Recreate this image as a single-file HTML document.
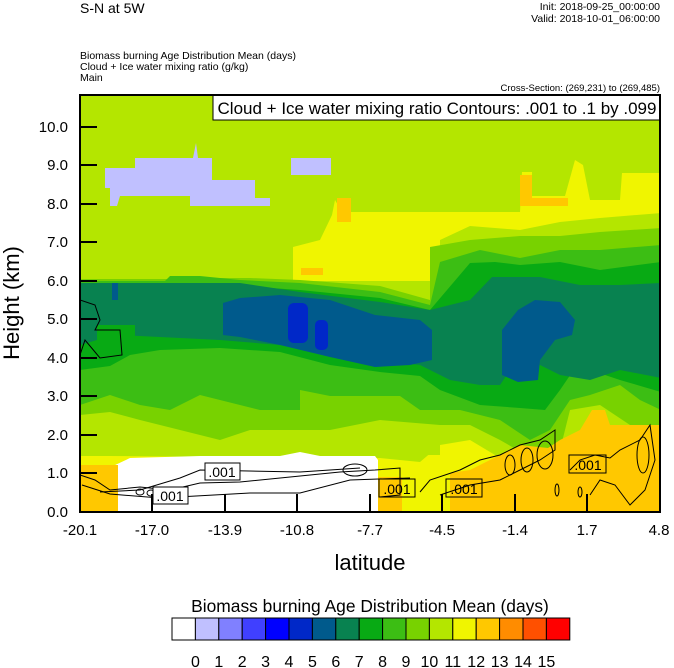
<!DOCTYPE html>
<html><head><meta charset="utf-8"><style>
body{margin:0;background:#fff;}
svg{display:block;font-family:"Liberation Sans",sans-serif;}
</style></head><body>
<svg width="674" height="668" viewBox="0 0 674 668" xmlns="http://www.w3.org/2000/svg">
<rect width="674" height="668" fill="#fff"/>
<text x="80" y="13" font-size="14">S-N at 5W</text>
<text x="660" y="10" font-size="10.5" text-anchor="end">Init: 2018-09-25_00:00:00</text>
<text x="660" y="22" font-size="10.5" text-anchor="end">Valid: 2018-10-01_06:00:00</text>
<text x="80" y="59" font-size="10.5">Biomass burning Age Distribution Mean   (days)</text>
<text x="80" y="70" font-size="10.5">Cloud + Ice water mixing ratio   (g/kg)</text>
<text x="80" y="81" font-size="10.5">Main</text>
<text x="660" y="91" font-size="9.5" text-anchor="end">Cross-Section: (269,231) to (269,485)</text>
<defs><clipPath id="c"><rect x="80" y="95" width="580" height="417"/></clipPath></defs>
<g clip-path="url(#c)">
<rect x="80" y="95" width="580" height="417" fill="#b4e600"/>
<polygon points="105,168 135,168 135,158 193,158 196,143 198,158 212,158 212,180 255,180 255,198 270,198 270,206 190,206 190,196 120,196 117,206 110,206 110,188 105,188" fill="#c0c0ff"/>
<rect x="291" y="158" width="40" height="17" fill="#c0c0ff"/>
<polygon points="332,215 335,200 342,212 520,212 522,172 532,172 532,196 565,196 575,160 583,165 590,200 620,200 622,173 661,173 661,512 80,512 80,430 95,425 130,420 160,440 200,450 300,455 440,455 440,300 380,292 293,293 293,247 320,240" fill="#f0f500"/>
<rect x="337" y="198" width="14" height="24" fill="#ffc800"/>
<rect x="301" y="268" width="22" height="7" fill="#ffc800"/>
<polygon points="520,212 520,175 532,175 532,198 568,198 568,206 520,206" fill="#ffc800"/>
<polygon points="80,281 440,281 440,240 470,226 520,230 560,222 600,218 661,213 661,440 620,445 590,430 560,470 520,470 470,440 440,445 420,462 380,458 110,456 80,456" fill="#b4e600"/>
<polygon points="80,279 170,279 200,278 250,278 300,280 380,286 430,300 430,247 470,240 520,236 560,236 600,232 661,228 661,430 630,425 600,405 570,410 560,450 535,460 500,440 470,425 440,425 380,420 330,430 250,430 220,440 180,430 140,420 110,412 80,415" fill="#78d200"/>
<polygon points="80,281 165,281 170,276 200,276 240,280 300,283 380,292 430,305 440,262 480,250 520,258 560,250 600,250 661,245 661,410 640,400 620,385 590,395 570,400 550,430 530,440 500,420 460,410 420,410 400,396 330,396 300,390 300,410 260,410 200,395 170,410 140,405 110,395 80,405" fill="#3cbe14"/>
<polygon points="80,283 200,283 240,286 300,290 380,298 430,310 470,263 495,262 520,265 560,262 600,270 661,262 661,392 620,380 590,370 575,368 560,390 545,410 520,408 480,405 440,390 420,376 380,372 330,365 280,352 220,348 160,350 130,355 110,366 80,370" fill="#08aa14"/>
<polygon points="80,283 240,283 300,292 380,302 430,310 470,300 492,277 540,277 580,285 620,285 661,283 661,378 620,370 590,380 560,375 520,355 500,385 480,385 450,380 420,365 380,360 330,350 280,345 220,340 160,337 120,335 97,340 80,345" fill="#088250"/>
<rect x="97" y="325" width="38" height="25" fill="#08aa14"/>
<polygon points="112,283 118,283 118,300 112,300" fill="#005a8c"/>
<polygon points="223,303 240,298 280,295 330,300 375,315 420,320 432,330 432,360 410,365 375,367 330,357 280,345 240,337 223,335" fill="#005a8c"/>
<polygon points="502,330 518,310 535,300 560,302 575,320 572,335 555,340 540,360 538,380 518,382 502,375" fill="#005a8c"/>
<rect x="288" y="303" width="20" height="40" rx="6" fill="#0028c8"/>
<rect x="315" y="320" width="13" height="30" rx="5" fill="#0028c8"/>
<polygon points="113,466 130,458 200,456 280,456 300,452 320,456 375,456 378,460 378,512 113,512" fill="#fff"/>
<rect x="80" y="465" width="38" height="47" fill="#ffc800"/>
<rect x="378" y="477" width="24" height="35" fill="#ffc800"/>
<polygon points="450,473 470,470 500,455 520,445 548,448 560,440 580,430 592,410 605,410 610,425 661,425 661,512 450,512" fill="#ffc800"/>
<g fill="none" stroke="#000" stroke-width="1">
<path d="M80,300 L95,305 L100,320 L95,330 L120,330 L122,355 L100,358 L85,340 L80,355"/>
<path d="M80,475 L95,480 L110,490 L140,487 L170,490 L200,483 L240,482 L340,472 L375,470 L400,468 L400,495 L380,497"/>
<path d="M82,485 L110,494 L160,498 L250,493 L300,493 L350,480 L410,478"/>
<path d="M100,492 L140,490 L180,478 L200,470 L300,472 L360,468"/>
<ellipse cx="355" cy="470" rx="12" ry="6"/>
<ellipse cx="140" cy="492" rx="4" ry="3"/>
<ellipse cx="151" cy="493" rx="4" ry="3"/>
<path d="M420,492 L430,480 L460,470 L480,460 L500,455 L520,445 L540,440 L555,430 L555,450 L540,460 L520,470 L500,480 L470,485 L440,495"/>
<ellipse cx="527" cy="460" rx="6" ry="12"/><ellipse cx="545" cy="455" rx="8" ry="14"/>
<ellipse cx="510" cy="465" rx="5" ry="10"/>
<path d="M570,470 L580,460 L595,455 L610,458 L620,450 L640,440 L650,425 L655,460 L645,490 L630,505 L615,485 L600,480 L590,495"/>
<ellipse cx="643" cy="455" rx="6" ry="18"/>
<ellipse cx="557" cy="490" rx="2" ry="6"/><ellipse cx="580" cy="492" rx="2" ry="5"/>
</g>
</g>
<g font-size="14" text-anchor="middle">
<rect x="205" y="463" width="35" height="17" fill="#fff" stroke="#000"/><text x="222" y="477">.001</text>
<rect x="153" y="487" width="35" height="17" fill="#fff" stroke="#000"/><text x="170" y="501">.001</text>
<rect x="379" y="479" width="36" height="18" fill="none" stroke="#000"/><text x="397" y="494">.001</text>
<rect x="446" y="479" width="36" height="18" fill="none" stroke="#000"/><text x="464" y="494">.001</text>
<rect x="569" y="455" width="37" height="18" fill="none" stroke="#000"/><text x="588" y="470">.001</text>
</g>
<rect x="213" y="95" width="447" height="25" fill="#fff" stroke="#000"/>
<text x="437" y="114" font-size="17" text-anchor="middle">Cloud + Ice water mixing ratio Contours: .001 to .1 by .099</text>
<rect x="80" y="95" width="580" height="417" fill="none" stroke="#000" stroke-width="2"/>
<g stroke="#000" stroke-width="2">
<line x1="80" y1="127" x2="97" y2="127"/><line x1="80" y1="165" x2="97" y2="165"/><line x1="80" y1="204" x2="97" y2="204"/><line x1="80" y1="242" x2="97" y2="242"/><line x1="80" y1="281" x2="97" y2="281"/><line x1="80" y1="319" x2="97" y2="319"/><line x1="80" y1="358" x2="97" y2="358"/><line x1="80" y1="396" x2="97" y2="396"/><line x1="80" y1="435" x2="97" y2="435"/><line x1="80" y1="473" x2="97" y2="473"/>
<line x1="152" y1="512" x2="152" y2="494"/><line x1="225" y1="512" x2="225" y2="494"/><line x1="297" y1="512" x2="297" y2="494"/><line x1="370" y1="512" x2="370" y2="494"/><line x1="442" y1="512" x2="442" y2="494"/><line x1="515" y1="512" x2="515" y2="494"/><line x1="587" y1="512" x2="587" y2="494"/>
</g>
<g font-size="15" text-anchor="end">
<text x="68" y="132">10.0</text><text x="68" y="170">9.0</text><text x="68" y="209">8.0</text><text x="68" y="247">7.0</text><text x="68" y="286">6.0</text><text x="68" y="324">5.0</text><text x="68" y="363">4.0</text><text x="68" y="401">3.0</text><text x="68" y="440">2.0</text><text x="68" y="478">1.0</text><text x="68" y="517">0.0</text>
</g>
<g font-size="15" text-anchor="middle">
<text x="80" y="535">-20.1</text><text x="152" y="535">-17.0</text><text x="225" y="535">-13.9</text><text x="297" y="535">-10.8</text><text x="370" y="535">-7.7</text><text x="442" y="535">-4.5</text><text x="515" y="535">-1.4</text><text x="587" y="535">1.7</text><text x="659" y="535">4.8</text>
</g>
<text x="19" y="303" font-size="22" text-anchor="middle" transform="rotate(-90 19 303)">Height (km)</text>
<text x="370" y="570" font-size="22" text-anchor="middle">latitude</text>
<text x="370" y="612" font-size="17.4" text-anchor="middle">Biomass burning Age Distribution Mean  (days)</text>
<g stroke="#000" stroke-width="1">
<rect x="172" y="618" width="23.4" height="22" fill="#ffffff"/>
<rect x="195.4" y="618" width="23.4" height="22" fill="#c0c0ff"/>
<rect x="218.8" y="618" width="23.4" height="22" fill="#8080ff"/>
<rect x="242.2" y="618" width="23.4" height="22" fill="#4040ff"/>
<rect x="265.6" y="618" width="23.4" height="22" fill="#0000ff"/>
<rect x="289" y="618" width="23.4" height="22" fill="#0028c8"/>
<rect x="312.4" y="618" width="23.4" height="22" fill="#005a8c"/>
<rect x="335.8" y="618" width="23.4" height="22" fill="#088250"/>
<rect x="359.2" y="618" width="23.4" height="22" fill="#08aa14"/>
<rect x="382.6" y="618" width="23.4" height="22" fill="#3cbe14"/>
<rect x="406" y="618" width="23.4" height="22" fill="#78d200"/>
<rect x="429.4" y="618" width="23.4" height="22" fill="#b4e600"/>
<rect x="452.8" y="618" width="23.4" height="22" fill="#f0f500"/>
<rect x="476.2" y="618" width="23.4" height="22" fill="#ffc800"/>
<rect x="499.6" y="618" width="23.4" height="22" fill="#ff8c00"/>
<rect x="523" y="618" width="23.4" height="22" fill="#ff5000"/>
<rect x="546.4" y="618" width="23.4" height="22" fill="#ff0000"/>
</g>
<g font-size="16" text-anchor="middle">
<text x="195.4" y="667">0</text><text x="218.8" y="667">1</text><text x="242.2" y="667">2</text><text x="265.6" y="667">3</text><text x="289" y="667">4</text><text x="312.4" y="667">5</text><text x="335.8" y="667">6</text><text x="359.2" y="667">7</text><text x="382.6" y="667">8</text><text x="406" y="667">9</text><text x="429.4" y="667">10</text><text x="452.8" y="667">11</text><text x="476.2" y="667">12</text><text x="499.6" y="667">13</text><text x="523" y="667">14</text><text x="546.4" y="667">15</text>
</g>
</svg>
</body></html>
